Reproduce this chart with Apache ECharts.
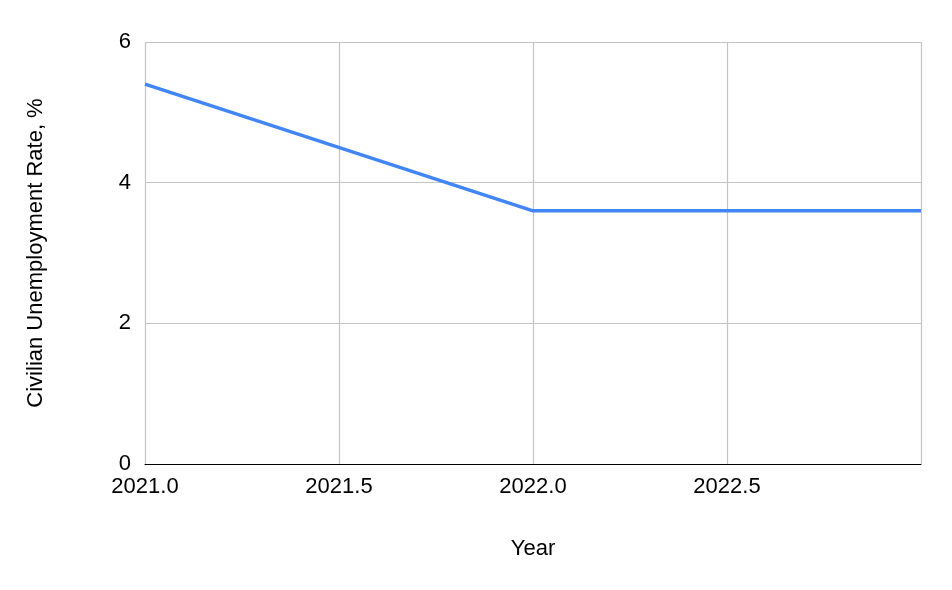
<!DOCTYPE html>
<html><head><meta charset="utf-8">
<script src="https://cdn.jsdelivr.net/npm/echarts@6/dist/echarts.min.js"></script>
<style>html,body{margin:0;padding:0;background:#fff}#c{width:952px;height:590px}</style>
</head><body><div id="c"></div>
<script>
const years = [2021, 2022, 2023];
const rates = [5.4, 3.6, 3.6];
const xTitle = 'Year';
const yTitle = 'Civilian Unemployment Rate, %';
const chart = echarts.init(document.getElementById('c'));
const font = 'Liberation Sans, Arial, sans-serif';
chart.setOption({
  animation: false,
  grid: {left: 145, right: 31, top: 42, bottom: 126},
  xAxis: {
    type: 'value', min: 2021, max: 2023, interval: 0.5,
    name: xTitle, nameLocation: 'middle', nameGap: 74,
    nameTextStyle: {fontFamily: font, fontSize: 22, color: '#000'},
    axisLine: {show: true, lineStyle: {color: '#000', width: 1}},
    axisTick: {show: false},
    axisLabel: {fontFamily: font, fontSize: 22, color: '#000', margin: 12,
      showMaxLabel: false,
      formatter: v => v === 2023 ? '' : v.toFixed(1)},
    splitLine: {show: true, lineStyle: {color: '#c4c4c4', width: 1.2}}
  },
  yAxis: {
    type: 'value', min: 0, max: 6, interval: 2,
    name: yTitle, nameLocation: 'middle', nameGap: 98, nameRotate: 90,
    nameTextStyle: {fontFamily: font, fontSize: 22, color: '#000'},
    axisLine: {show: false}, axisTick: {show: false},
    axisLabel: {fontFamily: font, fontSize: 22, color: '#000', margin: 14},
    splitLine: {show: true, lineStyle: {color: '#c4c4c4', width: 1.2}}
  },
  series: [{
    type: 'line', data: years.map((y, i) => [y, rates[i]]),
    showSymbol: false, lineStyle: {color: '#4285f4', width: 3.5}
  }]
});
</script></body></html>
